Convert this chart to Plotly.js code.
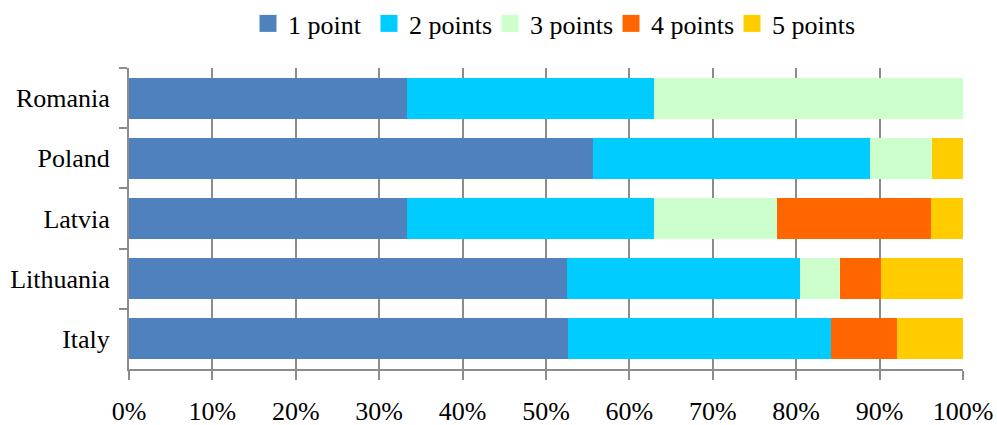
<!DOCTYPE html>
<html>
<head>
<meta charset="utf-8">
<script src="https://cdn.plot.ly/plotly-3.0.1.min.js"></script>
<style>html,body{margin:0;padding:0;background:#fff;}#chart{width:997px;height:425px;}</style>
</head>
<body>
<div id="chart"></div>
<script>
const countries = ['Romania', 'Poland', 'Latvia', 'Lithuania', 'Italy'];
const seriesNames = ['1 point', '2 points', '3 points', '4 points', '5 points'];
const onePoint    = [33.3, 55.6, 33.3, 52.5, 52.6];
const twoPoints   = [29.6, 33.3, 29.6, 27.9, 31.6];
const threePoints = [37.1, 7.4, 14.8, 4.9, 0];
const fourPoints  = [0, 0, 18.5, 4.9, 7.9];
const fivePoints  = [0, 3.7, 3.8, 9.8, 7.9];
const colors = ['#4F81BD', '#00CCFF', '#CCFFCC', '#FF6600', '#FFCC00'];
const xTickVals = [0, 10, 20, 30, 40, 50, 60, 70, 80, 90, 100];
const xTickText = ['0%', '10%', '20%', '30%', '40%', '50%', '60%', '70%', '80%', '90%', '100%'];

const allSeries = [onePoint, twoPoints, threePoints, fourPoints, fivePoints];
const traces = allSeries.map((vals, i) => ({
  type: 'bar',
  orientation: 'h',
  name: seriesNames[i],
  y: countries,
  x: vals,
  marker: {color: colors[i], line: {width: 0}},
  hoverinfo: 'x+y+name'
}));

const font = {family: 'Liberation Serif, Times New Roman, serif', size: 26, color: '#000'};
const layout = {
  width: 997, height: 425,
  margin: {l: 128.7, r: 34.3, t: 68, b: 56, pad: 0},
  barmode: 'stack',
  bargap: 0.32,
  font: font,
  paper_bgcolor: '#fff',
  plot_bgcolor: '#fff',
  showlegend: true,
  legend: {
    orientation: 'h', xref: 'container', x: 248 / 997, xanchor: 'left',
    y: 1, yanchor: 'top', yref: 'container',
    font: font, traceorder: 'normal', itemwidth: 30,
    entrywidth: 76, entrywidthmode: 'pixels',
    valign: 'middle'
  },
  xaxis: {
    range: [0, 100],
    tickvals: xTickVals, ticktext: xTickText,
    showgrid: true, gridcolor: '#8c8c8c', gridwidth: 2,
    showline: true, linecolor: '#8c8c8c', linewidth: 2,
    ticks: 'outside', ticklen: 9, tickwidth: 2, tickcolor: '#8c8c8c',
    ticklabelstandoff: 9,
    zeroline: false, fixedrange: true
  },
  yaxis: {
    type: 'category', autorange: 'reversed',
    showgrid: false,
    showline: true, linecolor: '#8c8c8c', linewidth: 2,
    ticks: 'outside', ticklen: 8, tickwidth: 2, tickcolor: '#8c8c8c',
    tickson: 'boundaries',
    ticklabelstandoff: 12,
    fixedrange: true
  }
};
Plotly.newPlot('chart', traces, layout, {displayModeBar: false, staticPlot: true}).then(gd => {
  gd.querySelectorAll('.legend .scrollbox, .legend [clip-path]').forEach(el => el.removeAttribute('clip-path'));
  gd.querySelectorAll('.legend .legendpoints path').forEach(p => p.setAttribute('d', 'M8.5,8.5H-8.5V-8.5H8.5Z'));
});
</script>
</body>
</html>
